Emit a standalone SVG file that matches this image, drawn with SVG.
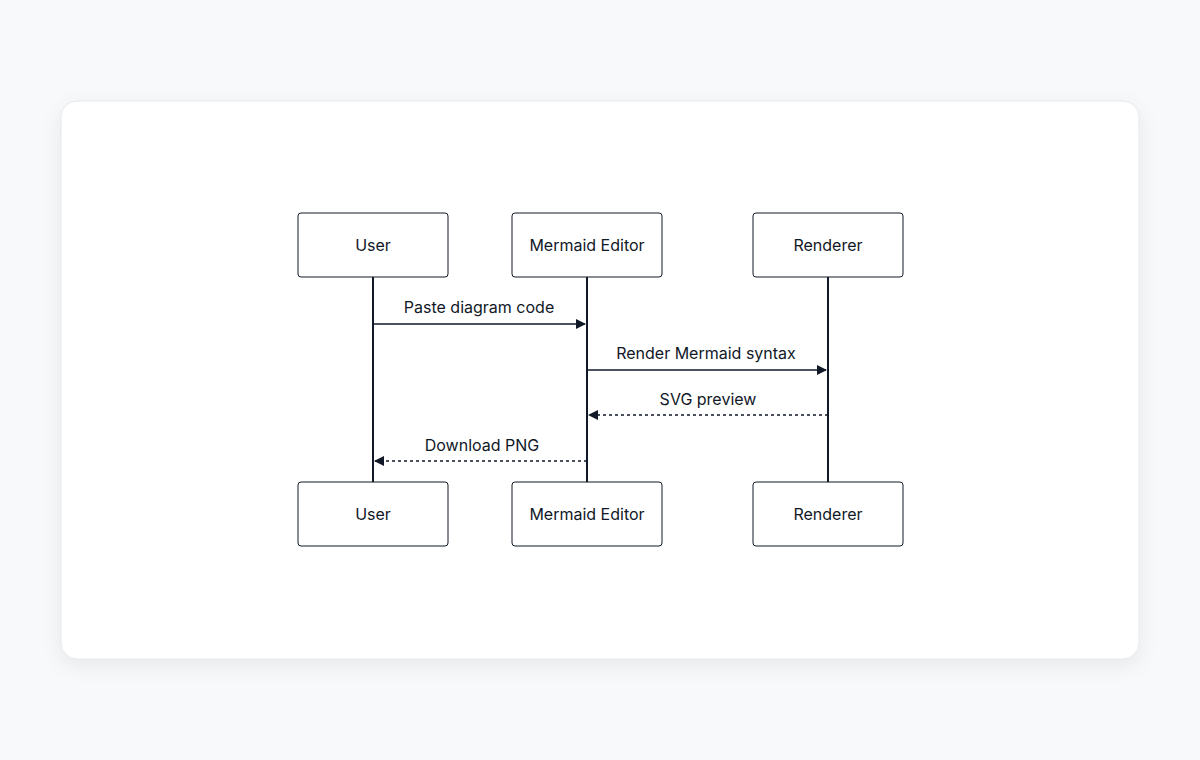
<svg xmlns="http://www.w3.org/2000/svg" width="1200" height="760" viewBox="0 0 1200 760">
<defs>
<style>
.box{fill:#fff;stroke:#111827;stroke-width:1}
.t{font-family:Inter,"Liberation Sans",sans-serif;font-size:16px;fill:#111827;text-anchor:middle}
.life{stroke:#111827;stroke-width:2}
.msg{stroke:#111827;stroke-width:1.5;fill:none}
.dash{stroke-dasharray:3,3}
</style>
<marker id="ah" markerWidth="10" markerHeight="10" refX="9" refY="5" orient="auto" markerUnits="userSpaceOnUse"><path d="M0,0L10,5L0,10z" fill="#111827"/></marker>
<filter id="sh" x="-10%" y="-10%" width="120%" height="130%"><feDropShadow dx="0" dy="6" stdDeviation="10" flood-color="#0f172a" flood-opacity="0.07"/></filter>
</defs>
<rect width="1200" height="760" fill="#f8f9fb"/>
<rect x="61" y="101" width="1078" height="558" rx="16" fill="#fff" stroke="#e5e7eb" filter="url(#sh)"/>
<g id="connectors">
<line class="life" x1="373" y1="277" x2="373" y2="482"/>
<line class="life" x1="587" y1="277" x2="587" y2="482"/>
<line class="life" x1="828" y1="277" x2="828" y2="482"/>
<line class="msg" x1="373" y1="324" x2="585" y2="324" marker-end="url(#ah)"/>
<text class="t" x="479" y="313">Paste diagram code</text>
<line class="msg" x1="587" y1="370" x2="826" y2="370" marker-end="url(#ah)"/>
<text class="t" x="706" y="359">Render Mermaid syntax</text>
<line class="msg dash" x1="828" y1="415" x2="589" y2="415" marker-end="url(#ah)"/>
<text class="t" x="708" y="405">SVG preview</text>
<line class="msg dash" x1="587" y1="461" x2="375" y2="461" marker-end="url(#ah)"/>
<text class="t" x="482" y="451">Download PNG</text>
</g>
<g id="user-top"><rect class="box" x="298" y="213" width="150" height="64" rx="3"/><text class="t" x="373" y="251">User</text></g>
<g id="editor-top"><rect class="box" x="512" y="213" width="150" height="64" rx="3"/><text class="t" x="587" y="251">Mermaid Editor</text></g>
<g id="renderer-top"><rect class="box" x="753" y="213" width="150" height="64" rx="3"/><text class="t" x="828" y="251">Renderer</text></g>
<g id="user-bottom"><rect class="box" x="298" y="482" width="150" height="64" rx="3"/><text class="t" x="373" y="520">User</text></g>
<g id="editor-bottom"><rect class="box" x="512" y="482" width="150" height="64" rx="3"/><text class="t" x="587" y="520">Mermaid Editor</text></g>
<g id="renderer-bottom"><rect class="box" x="753" y="482" width="150" height="64" rx="3"/><text class="t" x="828" y="520">Renderer</text></g>
</svg>
